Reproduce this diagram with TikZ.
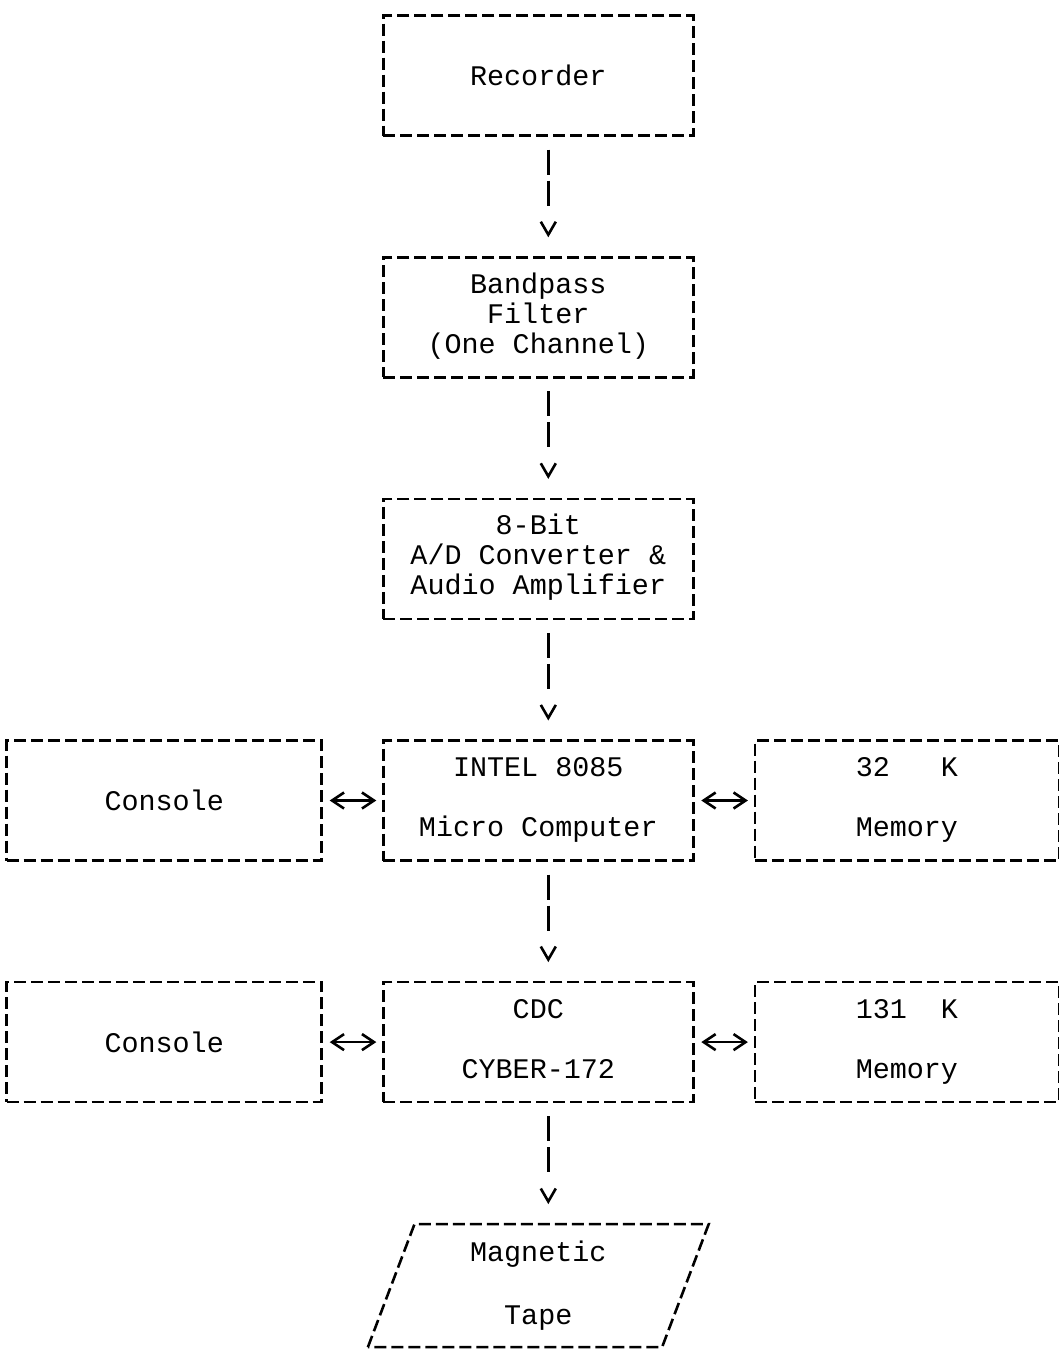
\documentclass[tikz,border=0pt]{standalone}
\usepackage{fontspec}
\newfontfamily\typewriter{Liberation Mono}
\usetikzlibrary{matrix,arrows.meta,positioning,shapes.geometric}

\newcommand{\boxlines}[1]{\begin{tabular}{@{}c@{}}#1\end{tabular}}

\tikzset{
	box/.style={draw, line width=1.3pt, dash pattern=on 6pt off 2.5pt, minimum width=155pt, minimum height=60pt, inner sep=0pt, outer sep=0pt, font=\typewriter\fontsize{14.2}{15}\selectfont},
	tape/.style={box, trapezium, trapezium left angle=74, trapezium right angle=106, trapezium stretches=true, minimum width=171.5pt, minimum height=61.5pt, align=center},
	flow/.style={line width=1.3pt, dash pattern=on 12.5pt off 3pt on 12.5pt off 20pt, -{Straight Barb[length=6.5pt,width=7.5pt]}, shorten <=7pt, shorten >=10pt},
	link/.style={line width=1.3pt, {Straight Barb[length=6pt,width=8pt]}-{Straight Barb[length=6pt,width=8pt]}, shorten <=4pt, shorten >=3.5pt}
}

\begin{document}
\begin{tikzpicture}
		\useasboundingbox (0,0) rectangle (529.5pt,-675pt);
		\matrix (m) [matrix of nodes, nodes={box, anchor=center}, row sep=59.5pt, column sep=29.5pt,
			column 1/.style={nodes={minimum width=157.5pt}},
			column 3/.style={nodes={minimum width=152pt}},
			anchor=north west, inner sep=0pt] at (2.5pt,-7pt)
		{
			& Recorder & \\
			& \boxlines{Bandpass\\Filter\\(One Channel)} & \\
			& \boxlines{8-Bit\\A/D Converter \&\\Audio Amplifier} & \\
			Console & \boxlines{INTEL 8085\\[15pt]Micro Computer} & \boxlines{32~~~K\\[15pt]Memory} \\
			Console & \boxlines{CDC\\[15pt]CYBER-172} & \boxlines{131~~K\\[15pt]Memory} \\
		};
		\node[tape, below=61pt of m-5-2] (tape) {Magnetic\\[16.5pt]Tape};
		\path[flow]
		([xshift=5pt]m-1-2.south) edge ([xshift=5pt]m-2-2.north)
		([xshift=5pt]m-2-2.south) edge ([xshift=5pt]m-3-2.north)
		([xshift=5pt]m-3-2.south) edge ([xshift=5pt]m-4-2.north)
		([xshift=5pt]m-4-2.south) edge ([xshift=5pt]m-5-2.north)
		([xshift=5pt]m-5-2.south) edge ([xshift=5pt]tape.north)
		;
		\path[link]
		(m-4-1) edge (m-4-2)
		(m-4-2) edge (m-4-3)
		(m-5-1) edge (m-5-2)
		(m-5-2) edge (m-5-3)
		;
	\end{tikzpicture}
\end{document}
